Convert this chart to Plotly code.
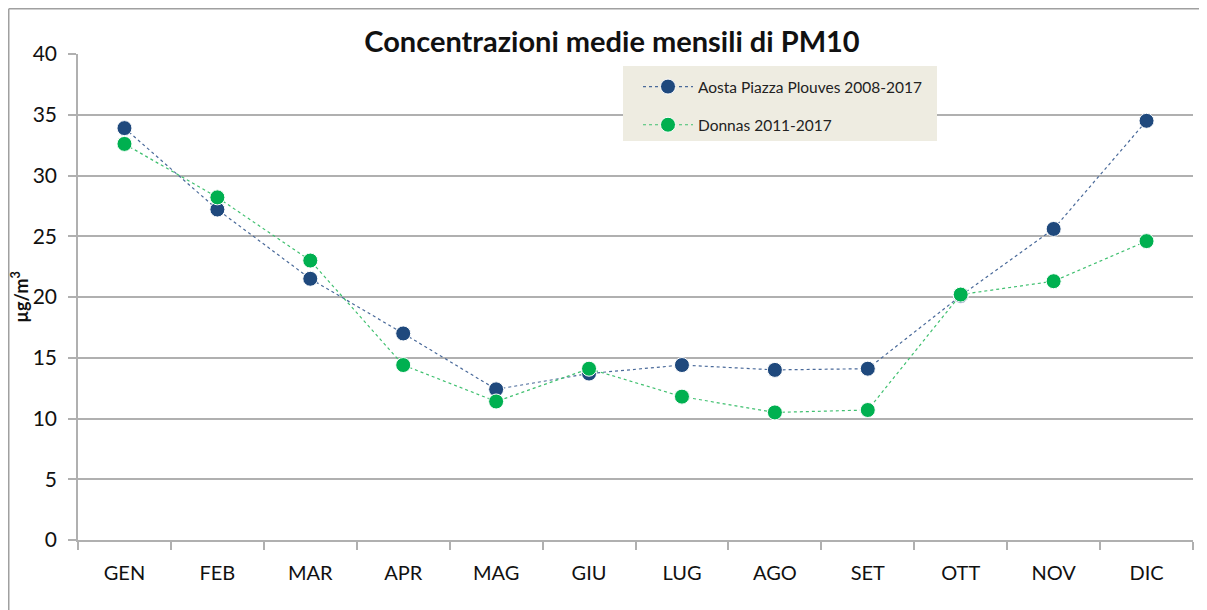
import plotly.graph_objects as go

months = ["GEN", "FEB", "MAR", "APR", "MAG", "GIU", "LUG", "AGO", "SET", "OTT", "NOV", "DIC"]
aosta = [33.9, 27.2, 21.5, 17.0, 12.4, 13.7, 14.4, 14.0, 14.1, 20.1, 25.6, 34.5]
donnas = [32.6, 28.2, 23.0, 14.4, 11.4, 14.1, 11.8, 10.5, 10.7, 20.2, 21.3, 24.6]
y_ticks = [0, 5, 10, 15, 20, 25, 30, 35, 40]

FONT = "Lato"
W, H = 1199, 602
L, R, T, B = 70, 14, 46, 70
PW, PH = W - L - R, H - T - B


def px(x):
    return (x - L) / PW


def py(y):
    return (H - B - y) / PH


fig = go.Figure()
fig.add_trace(go.Scatter(
    x=months, y=aosta, name="Aosta Piazza Plouves 2008-2017", mode="lines+markers",
    line=dict(color="#4a6a9a", width=1.2, dash="dot"),
    marker=dict(color="#1f497d", size=15, line=dict(color="white", width=1)),
    legendgroup="a",
))
fig.add_trace(go.Scatter(
    x=months, y=donnas, name="Donnas 2011-2017", mode="lines+markers",
    line=dict(color="#40c070", width=1.2, dash="dot"),
    marker=dict(color="#00b050", size=15, line=dict(color="white", width=1)),
    legendgroup="b",
))

fig.update_layout(
    width=W, height=H,
    margin=dict(l=L, r=R, t=T, b=B, autoexpand=False),
    paper_bgcolor="white", plot_bgcolor="white",
    font=dict(family=FONT, color="#111111"),
    title=dict(text="<b>Concentrazioni medie mensili di PM10</b>", x=604 / W, xanchor="center",
               y=1 - 34 / H, yanchor="middle", font=dict(size=29, family=FONT, color="#111111")),
    showlegend=True,
    legend=dict(x=px(630), y=py(62), xanchor="left", yanchor="top", bgcolor="rgba(0,0,0,0)",
                font=dict(size=15.5, family=FONT, color="#222222"), tracegroupgap=15,
                itemwidth=50, borderwidth=0),
    xaxis=dict(type="category", categoryorder="array", categoryarray=months, automargin=False,
               showgrid=False, showline=True, linecolor="#b0b0b0", linewidth=1.5,
               ticks="outside", tickson="boundaries", ticklen=8, tickcolor="#b0b0b0", tickwidth=1.5,
               tickfont=dict(size=20, family=FONT, color="#111111"), ticklabelstandoff=14,
               range=[-0.5, 11.5], fixedrange=True),
    yaxis=dict(range=[0, 40], tickvals=y_ticks, showgrid=True, gridcolor="#b0b0b0", gridwidth=1.5,
               automargin=False,
               showline=True, linecolor="#b0b0b0", linewidth=1.5, zeroline=False,
               ticks="outside", ticklen=8, tickcolor="#b0b0b0", tickwidth=1.5,
               tickfont=dict(size=21, family=FONT, color="#111111"), ticklabelstandoff=7,
               title=dict(text="<b>µg/m<sup>3</sup></b>", font=dict(size=18, family=FONT, color="#111111"),
                          standoff=9)),
    shapes=[
        dict(type="line", xref="paper", yref="paper",
             x0=px(0.75), x1=px(0.75), y0=py(H), y1=py(0.75),
             line=dict(color="#a0a0a0", width=1.5), layer="below"),
        dict(type="line", xref="paper", yref="paper",
             x0=px(0.75), x1=px(W), y0=py(0.75), y1=py(0.75),
             line=dict(color="#a0a0a0", width=1.5), layer="below"),
        dict(type="rect", xref="paper", yref="paper",
             x0=px(615), x1=px(929), y0=py(133), y1=py(58),
             line=dict(width=0), fillcolor="#eeece1", layer="above"),
    ],
)

fig.write_html("out.html")
